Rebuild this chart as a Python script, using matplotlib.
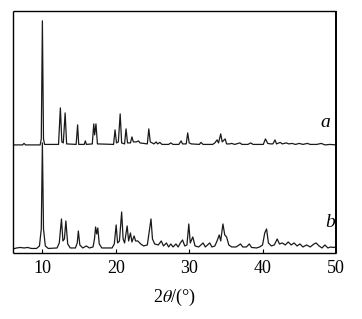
import matplotlib
matplotlib.use("Agg")
import matplotlib.pyplot as plt

# trace a: 2theta and intensity (above its own baseline)
a_x = [6.0, 7.3, 7.5, 7.7, 9.7, 9.85, 10.0, 10.15, 10.3, 12.2, 12.45, 12.65, 12.85, 13.1, 13.3,
       14.6, 14.8, 14.95, 15.7, 15.85, 16.0, 16.8, 17.0, 17.12, 17.3, 17.5, 19.7, 19.9, 20.1,
       20.35, 20.6, 20.8, 21.2, 21.4, 21.6, 22.0, 22.2, 22.4, 22.8, 23.1, 23.3, 24.3, 24.5, 24.7,
       25.2, 25.5, 25.7, 26.0, 26.3, 27.2, 27.5, 27.8, 28.6, 28.9, 29.1, 29.6, 29.8, 30.0, 30.3,
       31.4, 31.6, 31.9, 33.2, 33.5, 33.8, 34.0, 34.3, 34.5, 34.9, 35.1, 35.5, 35.8, 36.2, 36.9,
       37.2, 38.0, 38.4, 38.7, 40.1, 40.4, 40.7, 41.1, 41.4, 41.7, 41.9, 42.4, 42.7, 43.2, 43.6,
       44.0, 44.5, 45.0, 45.5, 46.1, 46.5, 47.4, 48.0, 48.5, 49.2, 50.0]
a_y = [0, 0, 1.5, 0, 0, 6, 124, 6, 0.5, 0.5, 37, 3, 2, 32, 1,
       0.5, 20, 0.5, 0.5, 4, 0.5, 1, 21, 10, 21, 1, 0.5, 15, 2,
       3, 31, 2, 1, 16, 2, 2, 8, 3, 3, 4, 2, 1, 16, 3,
       1, 3, 1, 2.5, 0.5, 0.5, 2, 0.5, 0.5, 4, 1, 1, 12, 2, 1,
       0.5, 2.5, 0.5, 0.5, 2, 5, 2, 11, 3, 6, 1, 1, 1.5, 0.5, 2,
       0.5, 0.5, 2, 0.5, 0.5, 6, 1.5, 1, 1, 5, 1, 2.5, 1, 2, 1,
       1.5, 0.5, 1.5, 0.5, 1.5, 0.5, 0.5, 1.5, 0, 0.5, 0]

# trace b
b_x = [6.0, 6.5, 7.0, 7.5, 8.0, 8.5, 9.2, 9.6, 9.85, 10.0, 10.15, 10.4, 10.8, 12.0, 12.3, 12.6,
       12.8, 13.0, 13.2, 13.45, 13.8, 14.5, 14.75, 14.9, 15.1, 15.5, 16.0, 16.4, 16.9, 17.1,
       17.25, 17.4, 17.55, 17.75, 18.1, 19.5, 19.8, 20.05, 20.25, 20.5, 20.8, 21.0, 21.2, 21.55,
       21.75, 22.0, 22.2, 22.5, 22.7, 23.0, 23.4, 23.8, 24.3, 24.8, 25.0, 25.3, 25.8, 26.2, 26.5,
       26.9, 27.2, 27.5, 27.8, 28.2, 28.5, 28.8, 29.1, 29.4, 29.7, 29.95, 30.15, 30.5, 30.8,
       31.3, 31.9, 32.2, 32.8, 33.1, 33.5, 33.8, 34.1, 34.3, 34.6, 34.85, 35.1, 35.4, 35.8,
       36.4, 37.0, 37.3, 37.8, 38.2, 38.5, 39.2, 39.6, 40.0, 40.3, 40.55, 40.8, 41.2, 41.6,
       42.0, 42.3, 42.7, 43.1, 43.5, 43.9, 44.3, 44.7, 45.1, 45.5, 46.0, 46.5, 47.0, 47.3,
       47.7, 48.1, 48.5, 48.9, 49.3, 49.6, 50.0]
b_y = [0, 1, 1.5, 1, 1.5, 0.5, 0.5, 3, 20, 106, 20, 3, 0.5, 1, 6, 30,
       8, 10, 28, 5, 1, 1, 6, 18, 4, 1, 3, 1, 2, 10,
       22, 15, 21, 5, 1, 1, 5, 24, 6, 8, 37, 10, 6, 23,
       8, 16, 7, 13, 8, 8, 5, 3, 4, 30, 10, 5, 4, 8, 3,
       6, 2, 5, 2, 5, 2, 6, 9, 3, 4, 25, 6, 12, 3,
       2, 6, 2, 6, 2, 3, 8, 14, 8, 25, 14, 12, 4, 2,
       2, 5, 2, 2, 5, 1.5, 1, 2, 4, 16, 20, 6, 3, 4,
       10, 5, 6, 4, 7, 4, 6, 3, 5, 2, 4, 2, 5, 6,
       3, 1, 4, 1, 2, 1.5, 2]

a_offset = 108
b_offset = 4

plt.rcParams['font.family'] = ['Liberation Serif', 'DejaVu Serif']
plt.rcParams['mathtext.fontset'] = 'stix'

fig = plt.figure(figsize=(3.62, 3.19), dpi=100)
ax = fig.add_axes([0.036, 0.207, 0.892, 0.759])

ax.plot(b_x, [v + b_offset for v in b_y], color='#1a1a1a', lw=0.9)
ax.plot(a_x, [v + a_offset for v in a_y], color='#1a1a1a', lw=0.9)

ax.text(47.9, 126, 'a', fontsize=14, style='italic')
ax.text(48.6, 26, 'b', fontsize=14, style='italic')

ax.set_xlim(6, 50)
ax.set_ylim(0, 242)
ax.set_xticks([10, 20, 30, 40, 50])
ax.set_yticks([])
ax.tick_params(axis='x', direction='in', length=3, width=0.8, labelsize=13, pad=5)
ax.set_xlabel(r'2$\theta$/(°)', fontsize=13, labelpad=7)
for s in ax.spines.values():
    s.set_linewidth(1.0)
    s.set_capstyle('butt')
ax.spines['right'].set_linewidth(1.4)

fig.savefig('out.png', dpi=100)
